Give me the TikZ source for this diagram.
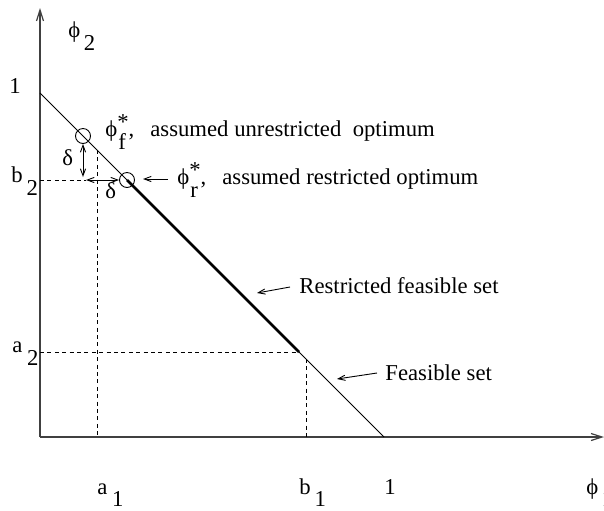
\documentclass[tikz,border=0pt]{standalone}
\usepackage{fontspec}
\setmainfont{Liberation Serif}
\usetikzlibrary{arrows.meta}
\newcommand\dn[1]{\raisebox{-0.6em}{#1}}
\newcommand\dns[1]{\raisebox{-0.55em}{#1}}
\newcommand\upr[1]{\raisebox{0.3em}{#1}}
\newcommand\supsub[2]{\makebox[0pt][l]{\hspace{0.05em}\dn{#2}}\upr{#1}}
\newcommand\ph{\iffontchar\font"03D5 ϕ\else$\phi$\fi}
\begin{document}
\begin{tikzpicture}[x=0.5pt,y=-0.5pt,
  txt/.style={inner sep=0, anchor=base west, font=\fontsize{11.35pt}{13.6pt}\selectfont},
  axisline/.style={line width=0.6pt, black!75, -{Straight Barb[length=5.5pt,width=3.5pt]}},
  dashline/.style={line width=0.45pt, dash pattern=on 2pt off 1.7pt},
  smallarrow/.style={line width=0.45pt, -{Straight Barb[length=3.5pt,width=2.6pt]}},
  dblarrow/.style={line width=0.45pt, {Straight Barb[length=3.5pt,width=2.6pt]}-{Straight Barb[length=3.5pt,width=2.6pt]}},
  optc/.style={circle, draw, line width=0.45pt, minimum size=7.5pt, inner sep=0}]
\useasboundingbox (0,0) rectangle (604,510);
% coordinates
\coordinate (O) at (40,437);
\coordinate (Ytop) at (40,8);
\coordinate (Xend) at (604,437);
\coordinate (P2) at (40,93);
\coordinate (P1) at (384,437);
\coordinate (A) at (299,352);
\coordinate (B2) at (40,180);
\coordinate (Hl) at (86,180);
\coordinate (Vb) at (83,177);
\coordinate (A1top) at (97,150);
\coordinate (A1bot) at (97,437);
\coordinate (B1top) at (306,359);
\coordinate (B1bot) at (306,437);
\coordinate (A2) at (40,352);
\coordinate (rs) at (168,179);
\coordinate (rt) at (143,179);
\coordinate (ss) at (290,287);
\coordinate (st) at (257,293);
\coordinate (fs) at (377,373);
\coordinate (ft) at (337,379);
% axes and sets
\draw[axisline] (O) -- (Ytop);
\draw[axisline] (O) -- (Xend);
\draw[line width=0.45pt] (P2) -- (P1);
\node[optc] (cf) at (83,136) {};
\node[optc] (cr) at (127,180) {};
\draw[line width=1.4pt] (cr.center) -- (A);
% dashed guides
\draw[dashline] (B2) -- (Hl);
\draw[dashline] (A1top) -- (A1bot);
\draw[dashline] (B1top) -- (B1bot);
\draw[dashline] (A2) -- (A);
% delta arrows
\draw[dblarrow] (cf.south) -- (Vb);
\draw[dblarrow] (Hl) -- (cr.west);
% label arrows
\draw[smallarrow] (rs) -- (rt);
\draw[smallarrow] (ss) -- (st);
\draw[smallarrow] (fs) -- (ft);
% labels
\node[txt] (phif) at (105,136) {\ph\supsub{*}{f},};
\node[txt] (tf) at (150,136) {assumed unrestricted\hspace{0.5em}optimum};
\node[txt] (phir) at (177,184) {\ph\supsub{*}{r},};
\node[txt] (tr) at (222,184) {assumed restricted optimum};
\node[txt] (trs) at (299,293) {Restricted feasible set};
\node[txt] (tfs) at (385,380) {Feasible set};
\node[txt, anchor=base] (one2) at (15,93) {1};
\node[txt] (phi2) at (68,37) {\ph\hspace{0.15em}\dn{2}};
\node[txt] (b2) at (11,182) {b\hspace{0.17em}\dn{2}};
\node[txt] (a2) at (12,352) {a\hspace{0.2em}\dn{2}};
\node[txt] (a1) at (97,494) {a\hspace{0.2em}\dns{1}};
\node[txt] (b1) at (299,494) {b\hspace{0.17em}\dns{1}};
\node[txt, anchor=base] (one1) at (390,494) {1};
\node[txt] (phi1) at (586,494) {\ph\hspace{0.15em}\dns{1}};
\node[txt] (d1) at (62,165) {δ};
\node[txt] (d2) at (105,198) {δ};
\end{tikzpicture}
\end{document}
